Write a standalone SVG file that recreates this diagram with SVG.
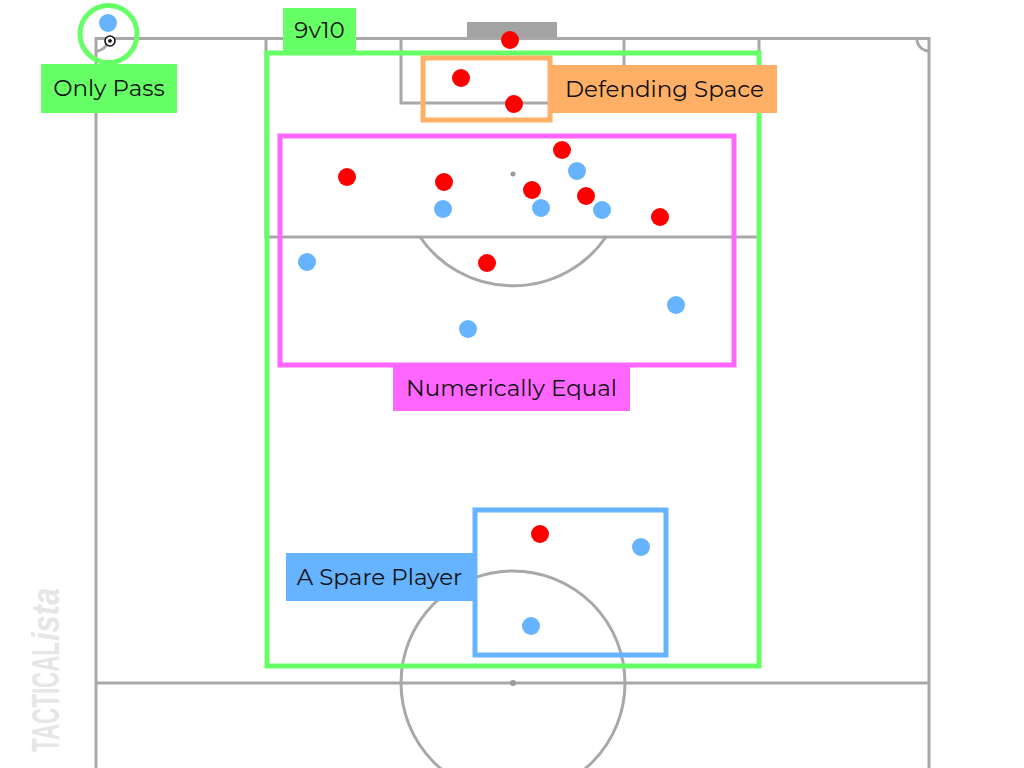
<svg xmlns="http://www.w3.org/2000/svg" width="1024" height="768" viewBox="0 0 1024 768">
<defs>
<style>
.pl{fill:none;stroke:#a8a8a8;stroke-width:3}
.red{fill:#ff0000}
.blue{fill:#66b3ff}
.lbl{font-family:Montserrat,"Open Sans","Noto Sans",sans-serif;font-size:23px;fill:#111;text-anchor:middle}
.zone{fill:none;stroke-width:5}
</style>
</defs>
<rect width="1024" height="768" fill="#fff"/>
<g id="pitch">
<rect x="467" y="22" width="90" height="16" fill="#a3a3a3"/>
<path class="pl" d="M96,768 V38.5 H929 V768"/>
<path class="pl" d="M96,683 H929"/>
<rect class="pl" x="266" y="38.5" width="493" height="198.5"/>
<rect class="pl" x="401" y="38.5" width="223" height="64.5"/>
<path class="pl" d="M420,237 A113,113 0 0 0 606,237"/>
<circle class="pl" cx="513" cy="683" r="112"/>
<circle cx="513" cy="174" r="2.5" fill="#999"/>
<circle cx="513" cy="683" r="3" fill="#999"/>
<path class="pl" d="M96,51 A12,12 0 0 0 108,38.5"/>
<path class="pl" d="M917,38.5 A12,12 0 0 0 929,51"/>
</g>
<g id="watermark" transform="translate(59,752) rotate(-90)">
<text x="0" y="0" font-family="'Liberation Sans',Arial,sans-serif" font-weight="bold" font-size="39" fill="#e6e6e6" textLength="110" lengthAdjust="spacingAndGlyphs">TACTICAL</text>
<text x="111" y="0" font-family="'Liberation Sans',Arial,sans-serif" font-weight="bold" font-style="italic" font-size="39" fill="#e6e6e6" textLength="53" lengthAdjust="spacingAndGlyphs">ista</text>
</g>
<g id="zone-9v10">
<rect class="zone" x="267" y="53" width="492" height="613" stroke="#66ff66"/>
<rect x="283" y="8" width="73" height="44" fill="#66ff66"/>
<text class="lbl" x="319.5" y="38">9v10</text>
</g>
<g id="zone-defending-space">
<rect class="zone" x="423" y="58" width="127" height="62" stroke="#ffb066"/>
<rect x="552" y="65" width="225" height="48" fill="#ffb066"/>
<text class="lbl" x="664.5" y="97">Defending Space</text>
</g>
<g id="zone-numerically-equal">
<rect class="zone" x="280" y="136" width="454" height="229" stroke="#ff66ff"/>
<rect x="393" y="366" width="237" height="45" fill="#ff66ff"/>
<text class="lbl" x="511.5" y="396">Numerically Equal</text>
</g>
<g id="zone-spare-player">
<rect class="zone" x="475" y="510" width="191" height="145" stroke="#66b3ff"/>
<rect x="286" y="553" width="187" height="48" fill="#66b3ff"/>
<text class="lbl" x="379.5" y="585">A Spare Player</text>
</g>
<g id="only-pass">
<circle cx="108.5" cy="34" r="28.5" fill="none" stroke="#66ff66" stroke-width="5"/>
<rect x="41" y="64" width="136" height="49" fill="#66ff66"/>
<text class="lbl" x="109" y="96">Only Pass</text>
<circle class="blue" cx="108" cy="23" r="9"/>
<g id="ball">
<circle cx="110" cy="41" r="5" fill="#fff" stroke="#111" stroke-width="1.6"/>
<path d="M110,38.8 L112,40.3 L111.3,42.6 L108.7,42.6 L108,40.3 Z" fill="#111"/>
</g>
</g>
<g id="players-red">
<circle class="red" cx="510" cy="40" r="9"/>
<circle class="red" cx="461" cy="78" r="9"/>
<circle class="red" cx="514" cy="104" r="9"/>
<circle class="red" cx="347" cy="177" r="9"/>
<circle class="red" cx="444" cy="182" r="9"/>
<circle class="red" cx="562" cy="150" r="9"/>
<circle class="red" cx="532" cy="190" r="9"/>
<circle class="red" cx="586" cy="196" r="9"/>
<circle class="red" cx="660" cy="217" r="9"/>
<circle class="red" cx="487" cy="263" r="9"/>
<circle class="red" cx="540" cy="534" r="9"/>
</g>
<g id="players-blue">
<circle class="blue" cx="577" cy="171" r="9"/>
<circle class="blue" cx="443" cy="209" r="9"/>
<circle class="blue" cx="541" cy="208" r="9"/>
<circle class="blue" cx="602" cy="210" r="9"/>
<circle class="blue" cx="307" cy="262" r="9"/>
<circle class="blue" cx="676" cy="305" r="9"/>
<circle class="blue" cx="468" cy="329" r="9"/>
<circle class="blue" cx="641" cy="547" r="9"/>
<circle class="blue" cx="531" cy="626" r="9"/>
</g>
<g id="connectors"></g>
</svg>
